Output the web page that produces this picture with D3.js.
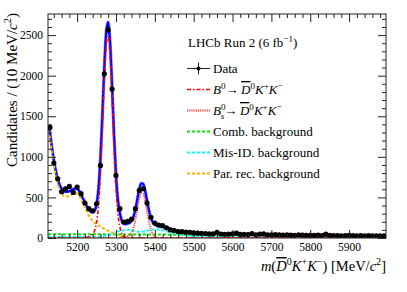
<!DOCTYPE html>
<html><head><meta charset="utf-8">
<script src="https://cdn.jsdelivr.net/npm/d3@7"></script>
<style>body{margin:0;background:#fff;}svg{display:block;}</style>
</head><body>
<script>
// ---------- data ----------
const binCenters = [5130,5140,5150,5160,5170,5180,5190,5200,5210,5220,5230,5240,5250,5260,5270,5280,5290,5300,5310,5320,5330,5340,5350,5360,5370,5380,5390,5400,5410,5420,5430,5440,5450,5460,5470,5480,5490,5500,5510,5520,5530,5540,5550,5560,5570,5580,5590,5600,5610,5620,5630,5640,5650,5660,5670,5680,5690,5700,5710,5720,5730,5740,5750,5760,5770,5780,5790,5800,5810,5820,5830,5840,5850,5860,5870,5880,5890,5900,5910,5920,5930,5940,5950,5960,5970,5980,5990];
const counts = [1362,924,730,570,607,636,562,628,546,431,
  361,336,422,894,2023,2565,1835,771,361,197,
  205,234,361,586,607,430,255,185,160,152,
  125,100,92,80,78,72,70,62,60,58,
  55,52,50,70,48,45,47,52,60,44,
  45,42,55,40,48,52,40,38,42,40,
  36,38,35,33,40,36,32,34,33,35,
  30,48,32,30,31,28,30,33,29,28,
  30,27,29,26,28,27,26];
const fitMass = [5125,5130,5135,5140,5145,5150,5155,5160,5165,5170,
  5175,5180,5185,5190,5195,5200,5205,5210,5215,5220,
  5225,5230,5235,5240,5245,5250,5255,5260,5265,5270,
  5275,5280,5285,5290,5295,5300,5305,5310,5315,5320,
  5325,5330,5335,5340,5345,5350,5355,5360,5365,5370,
  5375,5380,5385,5390,5395,5400,5405,5410,5415,5420,
  5430,5440,5450,5460,5470,5480,5490,5500,
  5550,5600,5650,5700,5750,5800,5850,5900,5950,5995];
const b0Fit = [0,0,0,0,0,0,0,0,0,0,
  0,0,0,0,0,0,0,0,0,4,
  8,15,28,50,90,190,396,788,1335,1929,
  2375,2492,2228,1698,1102,610,300,140,45,11,
  3,1,0,0,0,0,0,0,0,0,
  0,0,0,0,0,0,0,0,0,0,
  0,0,0,0,0,0,0,0,
  0,0,0,0,0,0,0,0,0,0];
const bsFit = [0,0,0,0,0,0,0,0,0,0,
  0,0,0,0,0,0,0,0,0,0,
  0,0,0,0,0,0,0,0,0,0,
  0,0,0,0,0,1,2,3,4,6,
  12,25,40,70,125,225,355,480,553,544,
  456,326,199,103,45,17,5,2,0,0,
  0,0,0,0,0,0,0,0,
  0,0,0,0,0,0,0,0,0,0];
const combFit = [47,47,47,47,47,47,47,47,47,47,
  46,46,46,46,46,46,46,46,46,46,
  45,45,45,45,45,45,45,45,45,45,
  44,44,44,44,44,44,44,44,44,44,
  43,43,43,43,43,43,43,43,43,43,
  42,42,42,42,42,42,42,42,42,42,
  42,41,41,41,40,40,40,39,
  37,35,34,32,31,29,28,27,26,25];
const misIdFit = [12,12,12,12,12,12,12,12,12,12,
  12,12,12,12,12,12,12,12,12,12,
  12,12,12,12,12,12,13,15,18,22,
  28,36,45,55,65,74,82,88,93,96,
  98,100,98,94,90,85,80,78,78,80,
  84,90,96,101,104,106,106,104,100,95,
  84,70,56,45,37,31,27,24,
  14,8,5,3,2,1,1,0,0,0];
const partRecFit = [1320,1230,1060,900,770,665,595,548,522,512,
  512,520,532,545,552,547,525,478,428,375,
  325,278,240,210,188,170,155,140,126,112,
  100,88,77,66,56,47,39,32,26,20,
  15,10,6,3,2,1,0,0,0,0,
  0,0,0,0,0,0,0,0,0,0,
  0,0,0,0,0,0,0,0,
  0,0,0,0,0,0,0,0,0,0];
const xMajorTicks = [5200,5300,5400,5500,5600,5700,5800,5900];
const yMajorTicks = [0,500,1000,1500,2000,2500];

// ---------- layout ----------
const W = 407, H = 292;
const L = 48, R = 386, T = 14, B = 238;
const FONT = "'Liberation Serif','Times New Roman',Times,serif";
const x = d3.scaleLinear().domain([5125, 5995]).range([L, R]);
const y = d3.scaleLinear().domain([0, 2760]).range([B, T]);

const svg = d3.select("body").append("svg").attr("width", W).attr("height", H)
  .style("font-family", FONT);

svg.append("defs").append("clipPath").attr("id", "clip")
  .append("rect").attr("x", L).attr("y", T).attr("width", R - L).attr("height", B - T);

// ---------- curves ----------
const total = fitMass.map((m, i) => b0Fit[i] + bsFit[i] + combFit[i] + misIdFit[i] + partRecFit[i]);
const lineGen = vals => d3.line().x((d, i) => x(fitMass[i])).y(d => y(d)).curve(d3.curveMonotoneX)(vals);
const plot = svg.append("g").attr("clip-path", "url(#clip)");

plot.append("path").attr("d", lineGen(total)).attr("fill", "none")
  .attr("stroke", "#7f7fff").attr("stroke-width", 3.2);
plot.append("path").attr("d", lineGen(total)).attr("fill", "none")
  .attr("stroke", "#0000ff").attr("stroke-width", 2);

const comps = [
  {vals: combFit, color: "#00ee00", dash: "3,2", w: 2},
  {vals: misIdFit, color: "#00ffff", dash: "3,2", w: 2},
  {vals: partRecFit, color: "#ffb400", dash: "3,2", w: 2},
  {vals: b0Fit, color: "#ff0000", dash: "4,2,1.5,2", w: 1.6},
  {vals: bsFit, color: "#ff4040", dash: "1.2,1", w: 1.8}
];
comps.forEach(c => {
  plot.append("path").attr("d", lineGen(c.vals)).attr("fill", "none")
    .attr("stroke", c.color).attr("stroke-width", c.w).attr("stroke-dasharray", c.dash);
});

// ---------- data points ----------
const dg = plot.append("g");
binCenters.forEach((m, i) => {
  const v = counts[i], e = Math.sqrt(v);
  dg.append("line").attr("x1", x(m)).attr("x2", x(m)).attr("y1", y(v - e)).attr("y2", y(v + e))
    .attr("stroke", "#000").attr("stroke-width", 1);
  dg.append("line").attr("x1", x(m - 5)).attr("x2", x(m + 5)).attr("y1", y(v)).attr("y2", y(v))
    .attr("stroke", "#000").attr("stroke-width", 1);
  dg.append("circle").attr("cx", x(m)).attr("cy", y(v)).attr("r", 2.6).attr("fill", "#000");
});

// ---------- axes ----------
const xMinor = d3.range(5140, 5995, 20).filter(v => v % 100 !== 0);
const yMinor = d3.range(100, 2760, 100).filter(v => v % 500 !== 0);
function styleAxis(g) {
  g.attr("font-family", null);
  g.select(".domain").remove();
  g.selectAll("line").attr("stroke", "#222");
  g.selectAll("text").style("font-family", FONT).attr("font-size", 11.5).attr("fill", "#000");
}
svg.append("g").attr("transform", `translate(0,${B})`)
  .call(d3.axisBottom(x).tickValues(xMajorTicks).tickSize(-8).tickPadding(5).tickFormat(d3.format("d"))).call(styleAxis);
svg.append("g").attr("transform", `translate(0,${B})`)
  .call(d3.axisBottom(x).tickValues(xMinor).tickSize(-4).tickFormat("")).call(styleAxis);
svg.append("g").attr("transform", `translate(0,${T})`)
  .call(d3.axisTop(x).tickValues(xMajorTicks).tickSize(-8).tickFormat("")).call(styleAxis);
svg.append("g").attr("transform", `translate(0,${T})`)
  .call(d3.axisTop(x).tickValues(xMinor).tickSize(-4).tickFormat("")).call(styleAxis);
svg.append("g").attr("transform", `translate(${L},0)`)
  .call(d3.axisLeft(y).tickValues(yMajorTicks).tickSize(-8).tickPadding(5).tickFormat(d3.format("d"))).call(styleAxis);
svg.append("g").attr("transform", `translate(${L},0)`)
  .call(d3.axisLeft(y).tickValues(yMinor).tickSize(-4).tickFormat("")).call(styleAxis);
svg.append("g").attr("transform", `translate(${R},0)`)
  .call(d3.axisRight(y).tickValues(yMajorTicks).tickSize(-8).tickFormat("")).call(styleAxis);
svg.append("g").attr("transform", `translate(${R},0)`)
  .call(d3.axisRight(y).tickValues(yMinor).tickSize(-4).tickFormat("")).call(styleAxis);
svg.append("rect").attr("x", L).attr("y", T).attr("width", R - L).attr("height", B - T)
  .attr("fill", "none").attr("stroke", "#222").attr("stroke-width", 1);

// ---------- rich text helper ----------
function rich(parent, px, py, fs, parts, anchor) {
  const t = parent.append("text").attr("x", px).attr("y", py).attr("font-size", fs)
    .style("font-family", FONT).attr("fill", "#000").attr("text-anchor", anchor || "start");
  let cur = 0;
  parts.forEach(p => {
    const target = p.sup ? -0.42 * fs : p.sub ? 0.3 * fs : 0;
    const ts = t.append("tspan").text(p.t);
    if (target - cur !== 0) ts.attr("dy", target - cur);
    cur = target;
    if (p.sup || p.sub) ts.attr("font-size", 0.7 * fs);
    if (p.i) ts.attr("font-style", "italic");
    if (p.ov) ts.attr("text-decoration", "overline");
    if (p.dx) ts.attr("dx", p.dx);
  });
  return t;
}

// axis titles
rich(svg, R, 271, 14.5, [
  {t: "m", i: true}, {t: "("}, {t: "D", i: true, ov: true}, {t: "0", sup: true},
  {t: "K", i: true}, {t: "+", sup: true}, {t: "K", i: true}, {t: "\u2212", sup: true},
  {t: ") [MeV/"}, {t: "c", i: true}, {t: "2", sup: true}, {t: "]"}
], "end");
const yt = svg.append("g").attr("transform", "translate(17,13) rotate(-90)");
rich(yt, 0, 0, 15, [
  {t: "Candidates / (10 MeV/"}, {t: "c", i: true}, {t: "2", sup: true}, {t: ")"}
], "end");

// ---------- legend ----------
const lg = svg.append("g");
const LFS = 13;
rich(lg, 188, 47, LFS, [{t: "LHCb Run 2 (6 fb"}, {t: "\u22121", sup: true}, {t: ")"}]);
const lx1 = 187, lx2 = 210, tx = 213;
const rows = [68.5, 89.5, 110.5, 131.5, 152.5, 173.5];
// Data
lg.append("line").attr("x1", lx1).attr("x2", lx2).attr("y1", rows[0]).attr("y2", rows[0]).attr("stroke", "#222");
lg.append("line").attr("x1", (lx1 + lx2) / 2).attr("x2", (lx1 + lx2) / 2).attr("y1", rows[0] - 6).attr("y2", rows[0] + 6).attr("stroke", "#222");
lg.append("circle").attr("cx", (lx1 + lx2) / 2).attr("cy", rows[0]).attr("r", 2).attr("fill", "#000");
rich(lg, tx, rows[0] + 4.5, LFS, [{t: "Data"}]);
const decay = [
  {t: "\u2192\u2009"}, {t: "D", i: true, ov: true}, {t: "0", sup: true},
  {t: "K", i: true}, {t: "+", sup: true}, {t: "K", i: true}, {t: "\u2212", sup: true}
];
const legendComps = [
  {c: comps[3], parts: [{t: "B", i: true}, {t: "0", sup: true}].concat(decay)},
  {c: comps[4], parts: [{t: "B", i: true}, {t: "0", sup: true}, {t: "s", sub: true, i: true, dx: -0.36 * LFS}].concat(decay)},
  {c: comps[0], parts: [{t: "Comb. background"}]},
  {c: comps[1], parts: [{t: "Mis-ID. background"}]},
  {c: comps[2], parts: [{t: "Par. rec. background"}]}
];
legendComps.forEach((e, i) => {
  const ry = rows[i + 1];
  lg.append("line").attr("x1", lx1).attr("x2", lx2).attr("y1", ry).attr("y2", ry)
    .attr("stroke", e.c.color).attr("stroke-width", e.c.w).attr("stroke-dasharray", e.c.dash);
  rich(lg, tx, ry + 4.5, LFS, e.parts);
});
</script>
</body></html>
